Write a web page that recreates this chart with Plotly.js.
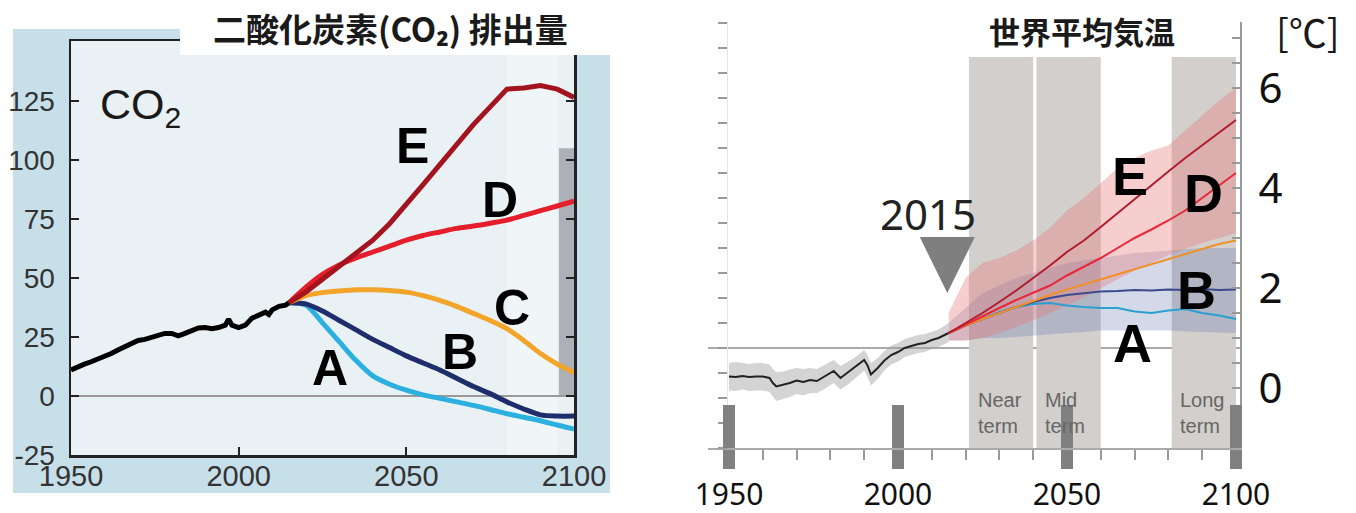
<!DOCTYPE html>
<html>
<head>
<meta charset="utf-8">
<script src="https://cdn.plot.ly/plotly-3.0.1.min.js"></script>
<style>html,body{margin:0;padding:0;background:#fff;}#chart{width:1356px;height:513px;}</style>
</head>
<body>
<div id="chart"></div>
<script>
// ---------- LEFT: CO2 emissions (GtCO2/yr) ----------
const histYearsL = [1950,1952,1954,1956,1958,1960,1962,1964,1966,1968,1970,1972,1974,1976,1978,1980,1982,1984,1986,1988,1990,1992,1994,1996,1997,1998,2000,2002,2004,2006,2008,2009,2010,2012,2014,2015];
const histCO2 = [11,12.5,13.5,14.5,15.5,16.5,18,19.5,21,22,23.5,24,25,25.5,26.5,26.5,25.5,26.5,27.5,28.8,29,28.5,29,30,32.5,30,29,30,33,34.5,35.5,34.5,36.5,38,38.5,39.5];
const projYearsL = [2015,2020,2025,2030,2035,2040,2045,2050,2055,2060,2065,2070,2075,2080,2085,2090,2095,2100];
const co2E = [39.5,44,49.5,55,60.5,66,73,81,89.5,98,106.5,115,122.5,130,130.5,131.5,130,126.5];
const co2D = [39.5,46,51.5,55.5,58.5,61,63.5,66,68,69.5,71,72,73.2,74.5,76.5,78.5,80.5,82.5];
const co2C = [39.5,42.5,43.8,44.5,45,45,44.7,44,42.5,40.5,38,35,32,28.5,23.5,18,13.5,10];
const co2B = [39.5,39,36,32,28,24,20.5,17,14,11,7.5,4,1,-2.5,-5.5,-8,-8.5,-8.5];
const co2A = [39.5,38.5,31,23,15,8.5,5,2.5,0.5,-1,-2.5,-4,-5.7,-7.5,-9,-10.5,-12.3,-14];
const co2RangeYear = [2097.75];
const co2RangeLow = [0];
const co2RangeHigh = [105];
const co2TickVals = [-25,0,25,50,75,100,125];
const co2TickText = ['-25','0','25','50','75','100','125'];
const yearTicks = [1950,2000,2050,2100];
const yearTickText = ['1950','2000','2050','2100'];

// ---------- RIGHT: global mean temperature (°C) ----------
const histYearsR = [1950,1952,1954,1956,1958,1960,1962,1963,1964,1966,1968,1970,1972,1974,1976,1978,1980,1981,1983,1985,1987,1989,1990,1991,1992,1994,1996,1998,2000,2002,2004,2006,2008,2010,2012,2015];
const histTemp = [0.23,0.22,0.24,0.22,0.23,0.23,0.2,0.1,0.03,0.06,0.1,0.15,0.12,0.16,0.14,0.22,0.3,0.34,0.2,0.3,0.4,0.5,0.56,0.45,0.27,0.4,0.55,0.66,0.72,0.8,0.84,0.88,0.9,0.96,1.0,1.1];
const histHigh = [0.5,0.52,0.5,0.48,0.5,0.5,0.47,0.38,0.32,0.33,0.37,0.4,0.38,0.4,0.38,0.45,0.52,0.56,0.44,0.52,0.6,0.7,0.76,0.66,0.5,0.6,0.74,0.85,0.9,0.98,1.02,1.06,1.08,1.13,1.17,1.3];
const histLow = [-0.05,-0.06,-0.03,-0.06,-0.05,-0.05,-0.08,-0.18,-0.26,-0.22,-0.18,-0.12,-0.15,-0.1,-0.1,-0.03,0.06,0.1,-0.03,0.06,0.17,0.28,0.35,0.22,0.05,0.18,0.35,0.47,0.53,0.62,0.66,0.7,0.72,0.78,0.82,0.92];
const projYearsR = [2015,2020,2025,2030,2035,2040,2045,2050,2055,2060,2065,2070,2075,2080,2085,2090,2095,2100];
const tempE = [1.1,1.3,1.5,1.72,1.95,2.2,2.45,2.72,2.95,3.22,3.5,3.78,4.05,4.33,4.6,4.85,5.1,5.36];
const tempD = [1.1,1.27,1.43,1.6,1.76,1.9,2.05,2.25,2.42,2.6,2.8,3.0,3.17,3.35,3.55,3.8,4.05,4.3];
const tempC = [1.1,1.25,1.38,1.5,1.63,1.75,1.86,1.97,2.07,2.17,2.27,2.38,2.48,2.58,2.68,2.78,2.88,2.95];
const tempB = [1.1,1.25,1.38,1.5,1.62,1.72,1.8,1.86,1.9,1.93,1.94,1.96,1.95,1.97,1.96,1.98,1.96,1.97];
const tempA = [1.1,1.25,1.38,1.52,1.62,1.68,1.7,1.65,1.62,1.6,1.6,1.53,1.5,1.55,1.58,1.5,1.45,1.38];
const highBandUp = [1.5,2.2,2.5,2.6,2.75,2.95,3.2,3.55,3.8,4.1,4.4,4.6,4.75,4.85,5.15,5.45,5.75,6.0];
const highBandLo = [0.95,0.95,1.0,1.1,1.22,1.35,1.5,1.65,1.82,2.0,2.18,2.35,2.5,2.65,2.78,2.9,3.0,3.1];
const lowBandUp = [1.3,1.6,1.9,2.05,2.2,2.3,2.4,2.5,2.55,2.6,2.65,2.7,2.72,2.75,2.78,2.8,2.8,2.8];
const lowBandLo = [0.95,0.95,1.0,1.0,1.02,1.05,1.08,1.1,1.12,1.15,1.15,1.15,1.15,1.15,1.13,1.12,1.1,1.1];
const termNames = ['Near<br>term','Mid<br>term','Long<br>term'];
const termStart = [2021,2041,2081];
const termEnd = [2040,2060,2100];
const refLevel = [0.8];
const tempTickVals = [0,2,4,6];
const tempTickText = ['0','2','4','6'];
const markYear = [2015];

// ---------- helpers ----------
const W = 1356, H = 513;
const px = v => v / W;
const py = v => 1 - v / H;
const SANS = 'Liberation Sans, Arial, sans-serif';
const CJK = 'Noto Sans CJK JP, Noto Sans, sans-serif';
const GEO = 'Noto Sans, DejaVu Sans, sans-serif';

const colL = {E:'#a3141e', D:'#e41e2b', C:'#f2a52a', B:'#1e2d6b', A:'#2bb0e0'};
const colR = {E:'#b01c2e', D:'#e8283a', C:'#f0902a', B:'#3a4a8c', A:'#2aa0d0'};

const traces = [];
traces.push({type:'bar', x:co2RangeYear, y:co2RangeHigh.map((h,i)=>h-co2RangeLow[i]), base:co2RangeLow, width:4.5,
  marker:{color:'rgba(150,155,160,0.75)', line:{width:0}}, xaxis:'x', yaxis:'y', hoverinfo:'skip', showlegend:false});
const projL = [['A',co2A],['B',co2B],['C',co2C],['D',co2D],['E',co2E]];
projL.forEach(([k,arr]) => traces.push({type:'scatter', mode:'lines', x:projYearsL, y:arr, xaxis:'x', yaxis:'y',
  line:{color:colL[k], width:5, shape: k==='E' ? 'linear' : 'spline', smoothing:0.8}, showlegend:false, hoverinfo:'skip'}));
traces.push({type:'scatter', mode:'lines', x:histYearsL, y:histCO2, xaxis:'x', yaxis:'y',
  line:{color:'#000', width:5}, showlegend:false, hoverinfo:'skip'});

function band(xs, lo, up, fill){
  traces.push({type:'scatter', mode:'lines', x:xs, y:lo, xaxis:'x2', yaxis:'y2', line:{width:0}, showlegend:false, hoverinfo:'skip'});
  traces.push({type:'scatter', mode:'lines', x:xs, y:up, xaxis:'x2', yaxis:'y2', line:{width:0}, fill:'tonexty', fillcolor:fill, showlegend:false, hoverinfo:'skip'});
}
band(projYearsR, lowBandLo, lowBandUp, 'rgba(90,110,170,0.26)');
band(projYearsR, highBandLo, highBandUp, 'rgba(232,118,120,0.36)');
band(histYearsR, histLow, histHigh, 'rgba(160,160,160,0.45)');
traces.push({type:'scatter', mode:'lines', x:histYearsR, y:histTemp, xaxis:'x2', yaxis:'y2', line:{color:'#222', width:2}, showlegend:false, hoverinfo:'skip'});
const projR = [['A',tempA],['B',tempB],['C',tempC],['D',tempD],['E',tempE]];
projR.forEach(([k,arr]) => traces.push({type:'scatter', mode:'lines', x:projYearsR, y:arr, xaxis:'x2', yaxis:'y2',
  line:{color:colR[k], width:2}, showlegend:false, hoverinfo:'skip'}));
traces.push({type:'scatter', mode:'lines', x:histYearsR, y:histTemp, xaxis:'x2', yaxis:'y3', opacity:0, showlegend:false, hoverinfo:'skip'});
traces.push({type:'scatter', mode:'lines', x:histYearsR, y:histTemp, xaxis:'x3', yaxis:'y2', opacity:0, showlegend:false, hoverinfo:'skip'});

const shapes = [
  {type:'rect', xref:'paper', yref:'paper', x0:px(13), x1:px(610), y0:py(493), y1:py(29), fillcolor:'#c6dfe8', line:{width:0}, layer:'below'},
  {type:'rect', xref:'paper', yref:'paper', x0:px(71), x1:px(574), y0:py(455), y1:py(41), fillcolor:'#e9f1f5', line:{width:0}, layer:'below'},
  {type:'rect', xref:'x', yref:'y domain', x0:2080, x1:2095, y0:0, y1:1, fillcolor:'rgba(255,255,255,0.35)', line:{width:0}, layer:'below'},
  {type:'rect', xref:'paper', yref:'paper', x0:px(180), x1:px(616), y0:py(55), y1:1, fillcolor:'#ffffff', line:{width:0}, layer:'above'}
];
termStart.forEach((s,i) => shapes.push({type:'rect', xref:'x2', yref:'y2', x0:s, x1:termEnd[i], y0:-1.2, y1:6.62,
  fillcolor:'#d2cfcc', line:{width:0}, layer:'below'}));
refLevel.forEach(v => shapes.push({type:'line', xref:'x2 domain', yref:'y2', x0:0, x1:1, y0:v, y1:v, line:{color:'#aaaaaa', width:2}, layer:'below'}));

const ann = [];
ann.push({xref:'paper', yref:'paper', x:px(390), y:py(28), text:'<b>二酸化炭素(CO₂) 排出量</b>', showarrow:false,
  font:{family:CJK, size:33, color:'#1a1a1a'}, xanchor:'center', yanchor:'middle'});
ann.push({xref:'paper', yref:'paper', x:px(98), y:py(78), text:'CO<sub>2</sub>', showarrow:false,
  font:{family:SANS, size:43, color:'#1a1a1a'}, xanchor:'left', yanchor:'top'});
const lettersL = {E:[2051.7,106], D:[2077.9,83], C:[2081.5,37.3], B:[2066.0,18.6], A:[2027.3,11.9]};
Object.entries(lettersL).forEach(([k,p]) => ann.push({xref:'x', yref:'y', x:p[0], y:p[1], text:'<b>'+k+'</b>', showarrow:false,
  font:{family:SANS, size:50, color:'#000'}, xanchor:'center', yanchor:'middle'}));
const lettersR = {E:[2068.6,4.24], D:[2090.5,3.9], C:[2103.6,2.86], B:[2088.2,1.96], A:[2069.5,0.9]};
Object.entries(lettersR).forEach(([k,p]) => ann.push({xref:'x2', yref:'y2', x:p[0], y:p[1], text:'<b>'+k+'</b>', showarrow:false,
  font:{family:SANS, size:54, color:'#000'}, xanchor:'center', yanchor:'middle'}));
termNames.forEach((t,i) => ann.push({xref:'x2', yref:'y2', x:termStart[i]+2.0, y:-0.5, text:t, showarrow:false, align:'left',
  font:{family:SANS, size:20, color:'#666'}, xanchor:'left', yanchor:'middle'}));
ann.push({xref:'x2', yref:'y2', x:markYear[0]-6, y:3.5, text:String(markYear[0]), showarrow:false,
  font:{family:GEO, size:42, color:'#222'}, xanchor:'center', yanchor:'middle'});
ann.push({xref:'paper', yref:'paper', x:px(1082), y:py(30), text:'<b>世界平均気温</b>', showarrow:false,
  font:{family:CJK, size:31, color:'#1a1a1a'}, xanchor:'center', yanchor:'middle'});
ann.push({xref:'paper', yref:'paper', x:px(1308), y:py(31), text:'[℃]', showarrow:false,
  font:{family:CJK, size:38, color:'#1a1a1a'}, xanchor:'center', yanchor:'middle'});

const triSvg = "data:image/svg+xml;charset=utf-8," + encodeURIComponent("<svg xmlns='http://www.w3.org/2000/svg' width='100' height='100' viewBox='0 0 100 100' preserveAspectRatio='none'><polygon points='0,0 100,0 50,100' fill='#7f7f7f'/></svg>");

const axL = {showline:true, linecolor:'#222', linewidth:2.5, mirror:'ticks', ticks:'inside', ticklen:8, tickwidth:2, tickcolor:'#222', showgrid:false};
const layout = {
  width:W, height:H, margin:{l:0,r:0,t:0,b:0}, paper_bgcolor:'#ffffff', plot_bgcolor:'rgba(0,0,0,0)', showlegend:false,
  barmode:'overlay',
  xaxis: Object.assign({}, axL, {domain:[px(71), px(574)], range:[1950,2100], anchor:'y', zeroline:false,
    tickmode:'array', tickvals:yearTicks, ticktext:yearTickText, tickfont:{family:SANS, size:29, color:'#333'}, ticklabelstandoff:-6}),
  yaxis: Object.assign({}, axL, {domain:[py(455), py(41)], range:[-25,150.4], anchor:'x', zeroline:true, zerolinecolor:'#9a9a9a', zerolinewidth:2,
    tickmode:'array', tickvals:co2TickVals, ticktext:co2TickText, tickfont:{family:SANS, size:28, color:'#333'}, ticklabelstandoff:8}),
  xaxis2: {domain:[px(708), px(1240)], range:[1943.8,2101.2], anchor:'y2', showline:true, linecolor:'#aaaaaa', linewidth:2,
    ticks:'outside', ticklen:19, tickwidth:12, tickcolor:'#808080', tickmode:'array', tickvals:yearTicks, ticktext:yearTickText,
    minor:{ticks:'outside', ticklen:10, tickwidth:2, tickcolor:'#999', dtick:10, tick0:1950},
    tickfont:{family:GEO, size:30, color:'#111'}, ticklabelstandoff:0, showgrid:false, zeroline:false},
  xaxis3: {overlaying:'x2', anchor:'free', position:py(448), side:'top', range:[1943.8,2101.2], showline:false,
    ticks:'outside', ticklen:43, tickwidth:12, tickcolor:'#808080', tickmode:'array', tickvals:yearTicks, showticklabels:false, showgrid:false, zeroline:false},
  yaxis2: {domain:[py(448), py(22)], range:[-1.2,7.32], anchor:'x2', side:'right', showline:true, linecolor:'#999', linewidth:2,
    ticks:'inside', ticklen:8, tickwidth:2, tickcolor:'#999', tickmode:'array', tickvals:tempTickVals, ticktext:tempTickText,
    minor:{ticks:'inside', ticklen:8, tickwidth:2, tickcolor:'#999', dtick:0.5, tick0:0},
    tickfont:{family:GEO, size:42, color:'#111'}, ticklabelstandoff:8, showgrid:false, zeroline:false},
  yaxis3: {overlaying:'y2', anchor:'free', position:px(727), side:'left', range:[-1.2,7.32], showline:true, linecolor:'#e4e4e4', linewidth:1,
    ticks:'outside', ticklen:9, tickwidth:2, tickcolor:'#999', tickmode:'linear', tick0:-0.2, dtick:0.5, showticklabels:false, showgrid:false, zeroline:false},
  shapes: shapes,
  annotations: ann,
  images: [{source:triSvg, xref:'x2', yref:'y2', x:markYear[0]-0.4, y:3.02, sizex:16.3, sizey:1.12, xanchor:'center', yanchor:'top', sizing:'stretch', layer:'above'}]
};
Plotly.newPlot('chart', traces, layout, {displayModeBar:false, staticPlot:true});
</script>
</body>
</html>
